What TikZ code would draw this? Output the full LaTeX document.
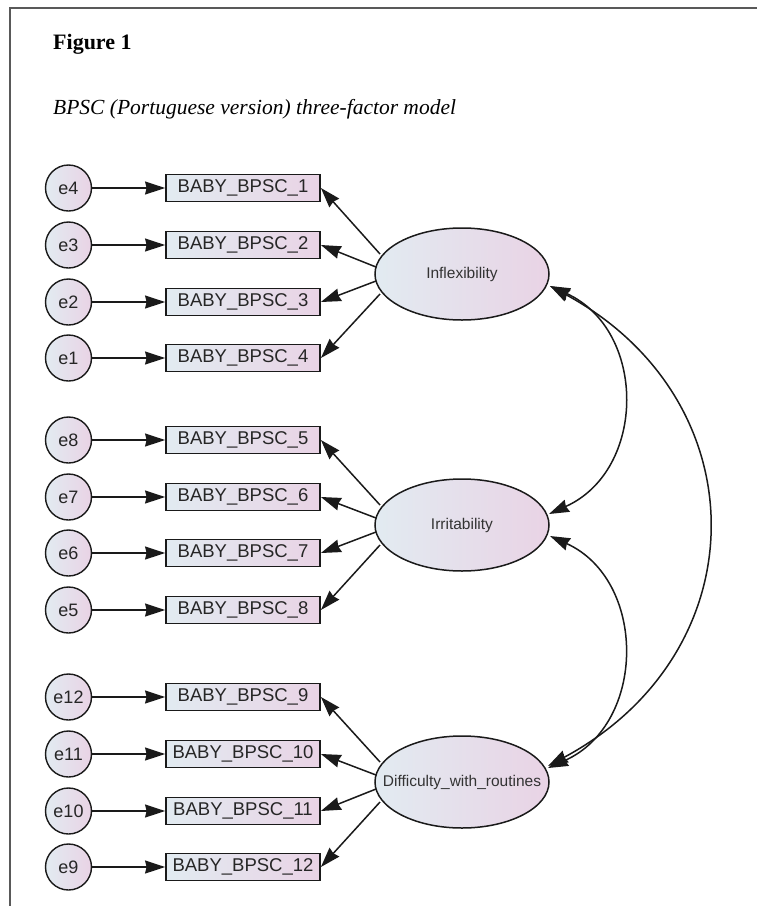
\documentclass[tikz,border=0pt]{standalone}
\usepackage{fontspec}
\setmainfont{Liberation Serif}
\newfontfamily\arialf{Liberation Sans}
\usetikzlibrary{arrows.meta,calc,shapes.geometric}
\definecolor{gL}{HTML}{E2EBF1}
\definecolor{gR}{HTML}{E9D3E5}
\definecolor{lineC}{HTML}{1A1A1A}
\begin{document}
\begin{tikzpicture}[x=1pt,y=-1pt,
  tipS/.tip={Stealth[length=20pt,width=13pt,inset=1.5pt]},
  obs/.style={draw=lineC, line width=1.8pt, left color=gL, right color=gR,
    minimum width=154pt, minimum height=27pt, inner sep=0pt,
    font=\arialf\fontsize{18.5}{20}\selectfont, text=black!85},
  err/.style={circle, draw=lineC, line width=1.4pt, left color=gL, right color=gR,
    minimum size=46pt, inner sep=0pt, font=\arialf\fontsize{18}{20}\selectfont, text=black!85},
  lat/.style={ellipse, draw=lineC, line width=1.5pt, left color=gL, right color=gR,
    minimum width=174pt, minimum height=92pt, inner sep=0pt,
    font=\arialf\fontsize{15.5}{17}\selectfont, text=black!80},
  arr/.style={draw=lineC, line width=1.5pt, -tipS},
  cov/.style={draw=lineC, line width=1.5pt, tipS-tipS}]
\path[use as bounding box, fill=white] (0,0) rectangle (757,906);
\draw[line width=2pt, draw=black!65] (757,8) -- (10,8) -- (10,906);
\node[anchor=base west, font=\fontsize{22}{24}\selectfont\bfseries, inner sep=0pt] (title) at (53,49) {Figure 1};
\node[anchor=base west, font=\fontsize{21.5}{24}\selectfont\itshape, inner sep=0pt] (caption) at (53,114) {BPSC (Portuguese version) three-factor model};
\foreach \i/\y/\e in {1/188/4, 2/245/3, 3/302/2, 4/358/1, 5/440/8, 6/497/7, 7/553/6, 8/610/5, 9/697/12, 10/754/11, 11/811/10, 12/867/9} {
  \node[obs] (b\i) at (243,\y) {BABY\_BPSC\_\i};
  \node[err] (e\e) at (68.5,\y) {e\e};
  \draw[arr] (e\e) -- (b\i);
}
\node[lat] (F1) at (462,274) {\makebox[0pt]{Inflexibility}};
\node[lat] (F2) at (462,525) {\makebox[0pt]{Irritability}};
\node[lat] (F3) at (462,782) {\makebox[0pt]{Difficulty\_with\_routines}};
\foreach \f/\a/\b/\c/\d in {F1/1/2/3/4, F2/5/6/7/8, F3/9/10/11/12} {
  \draw[arr] ($(\f.center)+(-82,-20)$) -- (b\a.east);
  \draw[arr] ($(\f.center)+(-86,-7)$) -- (b\b.east);
  \draw[arr] ($(\f.center)+(-86,7)$) -- (b\c.east);
  \draw[arr] ($(\f.center)+(-82,20)$) -- (b\d.east);
}
\draw[cov] ($(F1.center)+(88,12)$) .. controls ($(F1.center)+(185,56)$) and ($(F2.center)+(185,-55)$) .. ($(F2.center)+(87,-11)$);
\draw[cov] ($(F2.center)+(88,11)$) .. controls ($(F2.center)+(185,55)$) and ($(F3.center)+(185,-58)$) .. ($(F3.center)+(86,-14)$);
\draw[cov] ($(F1.center)+(88,12)$) .. controls ($(F1.center)+(298,126)$) and ($(F3.center)+(298,-130)$) .. ($(F3.center)+(86,-16)$);
\end{tikzpicture}
\end{document}
